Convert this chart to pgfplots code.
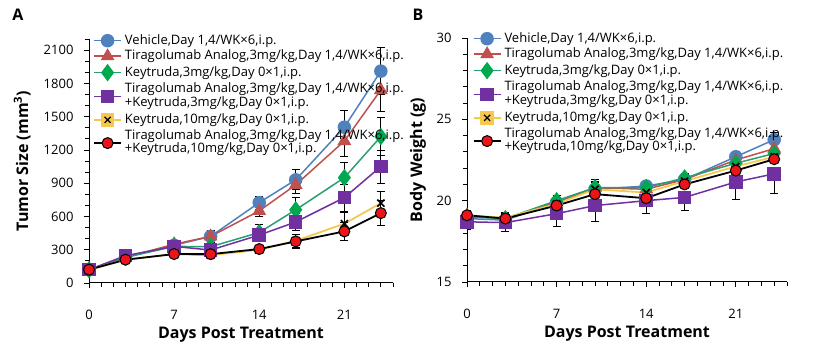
\documentclass[border=0pt]{standalone}
\usepackage{pgfplots}
\pgfplotsset{compat=1.18}
\usepackage{fontspec}
\setmainfont{Open Sans}
\definecolor{cblue}{RGB}{79,129,189}
\definecolor{cred}{RGB}{192,80,77}
\definecolor{cgreen}{RGB}{0,168,80}
\definecolor{cgreenl}{RGB}{40,160,110}
\definecolor{cpurple}{RGB}{112,48,160}
\definecolor{cyellow}{RGB}{247,200,80}
\definecolor{cdot}{RGB}{235,20,25}
\pgfplotsset{
  panel/.style={
    scale only axis,
    axis x line*=bottom, axis y line*=left,
    axis line style={-, line width=1pt},
    tick style={black, line width=0.8pt},
    tick align=outside,
    major tick length=5pt, minor tick length=4pt,
    xmin=0, xmax=25, xtick={0,7,14,21}, minor xtick={0,...,25},
    ticklabel style={font=\fontsize{13}{13}\selectfont},
    xticklabel style={yshift=-19pt},
    yticklabel style={xshift=-7pt},
    /pgf/number format/assume math mode=true,
    /pgf/number format/1000 sep={},
    label style={font=\fontsize{16}{16}\selectfont\bfseries},
    legend style={draw=none, fill=none, inner sep=0pt,
      font=\fontsize{13}{13.3}\selectfont,
      nodes={inner sep=0pt, text height=, text depth=}, row sep=2.5pt, column sep=3pt},
    legend cell align=left,
    legend image code/.code={\draw[mark repeat=2,mark phase=2] plot coordinates {(0pt,0pt) (13.5pt,0pt) (27pt,0pt)};},
  },
  ebb/.style={error bars/.cd, y dir=both, y explicit,
    error bar style={black, line width=0.8pt},
    error mark options={rotate=90, mark size=4pt, black, line width=0.8pt}},
  ebp/.style={error bars/.cd, y dir=plus, y explicit,
    error bar style={black, line width=0.8pt},
    error mark options={rotate=90, mark size=4pt, black, line width=0.8pt}},
  ebm/.style={error bars/.cd, y dir=minus, y explicit,
    error bar style={black, line width=0.8pt},
    error mark options={rotate=90, mark size=4pt, black, line width=0.8pt}},
  sblue/.style={cblue, line width=1.5pt, mark=*, mark size=6pt, mark options={fill=cblue, draw=cblue}},
  sred/.style={cred, line width=1.5pt, mark=triangle*, mark size=6.5pt, mark options={fill=cred, draw=cred}},
  sgreen/.style={cgreenl, line width=1.5pt, mark=diamond*, mark size=7.5pt, mark options={fill=cgreen, draw=cgreen}},
  spurple/.style={cpurple, line width=1.5pt, mark=square*, mark size=6pt, mark options={fill=cpurple, draw=cpurple}},
  syellow/.style={cyellow, line width=1.8pt, mark=x, mark size=5pt, mark options={draw=black, line width=1.6pt},
    legend image code/.code={
      \draw[cyellow, line width=1.8pt] (0pt,0pt)--(27pt,0pt);
      \fill[cyellow] (7.5pt,-6pt) rectangle (19.5pt,6pt);
      \draw[black, line width=1.3pt] (10.5pt,-3pt)--(16.5pt,3pt) (10.5pt,3pt)--(16.5pt,-3pt);}},
  sdot/.style={black, line width=1.8pt, mark=*, mark size=5.5pt, mark options={fill=cdot, draw=black, line width=1pt}},
}
\newcommand{\two}[2]{\begin{tabular}{@{}l@{}}#1\\#2\end{tabular}}
\begin{document}
\begin{tikzpicture}
\path[use as bounding box] (0,0) rectangle (825pt,352pt);
\node[font=\fontsize{16}{16}\selectfont\bfseries] at (18pt,337pt) {A};
\node[font=\fontsize{16}{16}\selectfont\bfseries] at (418pt,337pt) {B};
\begin{axis}[panel, at={(89pt,69pt)}, anchor=south west, width=304pt, height=244pt,
  ymin=0, ymax=2200, ytick={0,300,...,2100}, minor ytick={0,100,...,2200},
  xlabel={Days Post Treatment}, ylabel={Tumor Size (mm\textsuperscript{3})},
  ylabel style={at={(axis description cs:-0.22,0.5)}, anchor=center},
  legend style={at={(0,1)}, anchor=north west, xshift=4pt, yshift=5pt}]
\addplot[sblue, ebb] table[x=d, y=v, y error=e] {
d v e
0 120 20
3 235 20
7 340 30
10 420 50
14 725 60
17 930 90
21 1405 150
24 1910 210
};
\addlegendentry{Vehicle,Day 1,4/WK×6,i.p.}
\addplot[sred, ebb] table[x=d, y=v, y error=e] {
d v e
0 120 20
3 230 20
7 350 30
10 420 50
14 650 50
17 885 80
21 1280 140
24 1740 190
};
\addlegendentry{Tiragolumab Analog,3mg/kg,Day 1,4/WK×6,i.p.}
\addplot[sgreen, ebb] table[x=d, y=v, y error=e] {
d v e
0 120 20
3 230 20
7 330 30
10 327 40
14 455 70
17 660 110
21 950 140
24 1320 170
};
\addlegendentry{Keytruda,3mg/kg,Day 0×1,i.p.}
\addplot[spurple, ebb] table[x=d, y=v, y error=e] {
d v e
0 120 20
3 246 20
7 330 30
10 297 30
14 432 60
17 550 80
21 770 120
24 1050 150
};
\addlegendentry{\two{Tiragolumab Analog,3mg/kg,Day 1,4/WK×6,i.p.}{+Keytruda,3mg/kg,Day 0×1,i.p.}}
\addplot[syellow, ebb] table[x=d, y=v, y error=e] {
d v e
0 120 20
3 210 20
7 260 20
10 250 20
14 300 30
17 380 60
21 535 100
24 720 110
};
\addlegendentry{Keytruda,10mg/kg,Day 0×1,i.p.}
\addplot[sdot, ebb] table[x=d, y=v, y error=e] {
d v e
0 120 20
3 210 20
7 261 20
10 260 20
14 306 30
17 375 60
21 465 80
24 630 115
};
\addlegendentry{\two{Tiragolumab Analog,3mg/kg,Day 1,4/WK×6,i.p.}{+Keytruda,10mg/kg,Day 0×1,i.p.}}
\end{axis}
\begin{axis}[panel, at={(467pt,70pt)}, anchor=south west, width=320pt, height=244pt,
  ymin=15, ymax=30, ytick={15,20,25,30}, minor ytick={15,...,30},
  xlabel={Days Post Treatment}, ylabel={Body Weight (g)},
  ylabel style={at={(axis description cs:-0.153,0.5)}, anchor=center},
  legend style={at={(0,1)}, anchor=north west, xshift=5.5pt, yshift=6pt}]
\addplot[sblue, ebp] table[x=d, y=v, y error=e] {
d v e
0 18.9 0.3
3 18.8 0.3
7 19.9 0.3
10 20.7 0.3
14 20.9 0.3
17 21.3 0.3
21 22.7 0.35
24 23.75 0.45
};
\addlegendentry{Vehicle,Day 1,4/WK×6,i.p.}
\addplot[sred, ebp] table[x=d, y=v, y error=e] {
d v e
0 19.1 0.3
3 18.9 0.3
7 19.9 0.3
10 20.8 0.5
14 20.7 0.3
17 21.3 0.3
21 22.5 0.3
24 23.2 0.3
};
\addlegendentry{Tiragolumab Analog,3mg/kg,Day 1,4/WK×6,i.p.}
\addplot[sgreen, ebp] table[x=d, y=v, y error=e] {
d v e
0 19.0 0.3
3 18.9 0.3
7 20.0 0.3
10 20.8 0.3
14 20.8 0.3
17 21.4 0.3
21 22.3 0.3
24 22.9 0.3
};
\addlegendentry{Keytruda,3mg/kg,Day 0×1,i.p.}
\addplot[spurple, ebm] table[x=d, y=v, y error=e] {
d v e
0 18.7 0.45
3 18.65 0.55
7 19.2 0.8
10 19.7 1.0
14 20.0 0.8
17 20.2 0.8
21 21.15 1.1
24 21.65 1.2
};
\addlegendentry{\two{Tiragolumab Analog,3mg/kg,Day 1,4/WK×6,i.p.}{+Keytruda,3mg/kg,Day 0×1,i.p.}}
\addplot[syellow, ebp] table[x=d, y=v, y error=e] {
d v e
0 19.1 0.3
3 18.95 0.3
7 19.8 0.3
10 20.7 0.5
14 20.5 0.3
17 21.2 0.3
21 22.1 0.3
24 22.7 0.3
};
\addlegendentry{Keytruda,10mg/kg,Day 0×1,i.p.}
\addplot[sdot, ebp] table[x=d, y=v, y error=e] {
d v e
0 19.1 0.3
3 18.9 0.3
7 19.7 0.3
10 20.4 0.4
14 20.15 0.3
17 21.0 0.3
21 21.85 0.3
24 22.55 0.3
};
\addlegendentry{\two{Tiragolumab Analog,3mg/kg,Day 1,4/WK×6,i.p.}{+Keytruda,10mg/kg,Day 0×1,i.p.}}
\end{axis}
\end{tikzpicture}
\end{document}
